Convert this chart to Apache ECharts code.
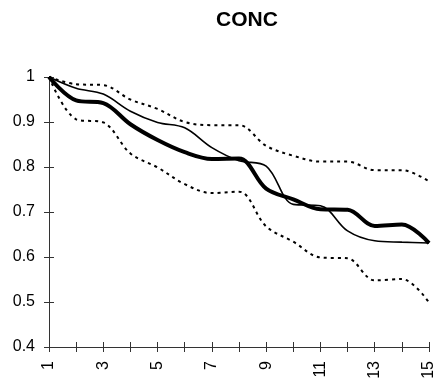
<!DOCTYPE html>
<html>
<head>
<meta charset="utf-8">
<script src="https://cdn.jsdelivr.net/npm/echarts@6/dist/echarts.min.js"></script>
<style>
  html, body { margin: 0; padding: 0; background: #fff; }
  #chart { width: 437px; height: 385px; }
</style>
</head>
<body>
<div id="chart"></div>
<script>
var categories = ['1', '2', '3', '4', '5', '6', '7', '8', '9', '10', '11', '12', '13', '14', '15'];
var concMean = [1, 0.948, 0.942, 0.895, 0.86, 0.833, 0.818, 0.819, 0.752, 0.728, 0.706, 0.705, 0.669, 0.672, 0.631];
var concObs = [1, 0.975, 0.962, 0.924, 0.899, 0.887, 0.843, 0.814, 0.802, 0.717, 0.714, 0.658, 0.636, 0.633, 0.631];
var concUpper = [1, 0.984, 0.982, 0.95, 0.929, 0.9, 0.893, 0.893, 0.847, 0.825, 0.812, 0.812, 0.793, 0.793, 0.768];
var concLower = [1, 0.906, 0.899, 0.83, 0.799, 0.762, 0.742, 0.745, 0.668, 0.634, 0.599, 0.597, 0.548, 0.551, 0.499];

var font = 'Liberation Sans, Arial, sans-serif';
var axisColor = '#333';
var smoothness = 0.35;

var chart = echarts.init(document.getElementById('chart'));

function bandSeries(data) {
    return {
        type: 'line',
        data: data,
        smooth: smoothness,
        symbol: 'none',
        lineStyle: { color: '#000', width: 2, type: [3, 4] }
    };
}

var option = {
    animation: false,
    backgroundColor: '#fff',
    title: {
        text: 'CONC',
        left: 211,
        top: 5,
        textStyle: { fontFamily: font, fontSize: 21, fontWeight: 'bold', color: '#000' }
    },
    grid: { left: 49, right: 5, top: 77, bottom: 38 },
    xAxis: [{
        type: 'category',
        data: categories,
        boundaryGap: false,
        axisLine: { lineStyle: { color: axisColor, width: 1 } },
        axisTick: { show: true, interval: 0, length: 5, lineStyle: { color: axisColor } },
        axisLabel: { interval: 1, rotate: 90, margin: 14, color: '#000', fontFamily: font, fontSize: 16 },
        splitLine: { show: false }
    }, {
        type: 'category',
        data: categories,
        position: 'bottom',
        boundaryGap: false,
        axisLine: { show: false },
        axisTick: { show: true, inside: true, interval: 0, length: 5, lineStyle: { color: axisColor } },
        axisLabel: { show: false },
        splitLine: { show: false }
    }],
    yAxis: [{
        type: 'value',
        min: 0.4,
        max: 1,
        interval: 0.1,
        axisLine: { show: true, lineStyle: { color: axisColor, width: 1 } },
        axisTick: { show: true, length: 5, lineStyle: { color: axisColor } },
        axisLabel: { margin: 14, color: '#000', fontFamily: font, fontSize: 16 },
        splitLine: { show: false }
    }, {
        type: 'value',
        position: 'left',
        min: 0.4,
        max: 1,
        interval: 0.1,
        axisLine: { show: false },
        axisTick: { show: true, inside: true, length: 5, lineStyle: { color: axisColor } },
        axisLabel: { show: false },
        splitLine: { show: false }
    }],
    series: [
        bandSeries(concUpper),
        bandSeries(concLower),
        {
            type: 'line',
            data: concObs,
            smooth: smoothness,
            symbol: 'none',
            lineStyle: { color: '#000', width: 1.6 }
        },
        {
            type: 'line',
            data: concMean,
            smooth: smoothness,
            symbol: 'none',
            lineStyle: { color: '#000', width: 4 }
        }
    ]
};

chart.setOption(option);
</script>
</body>
</html>
